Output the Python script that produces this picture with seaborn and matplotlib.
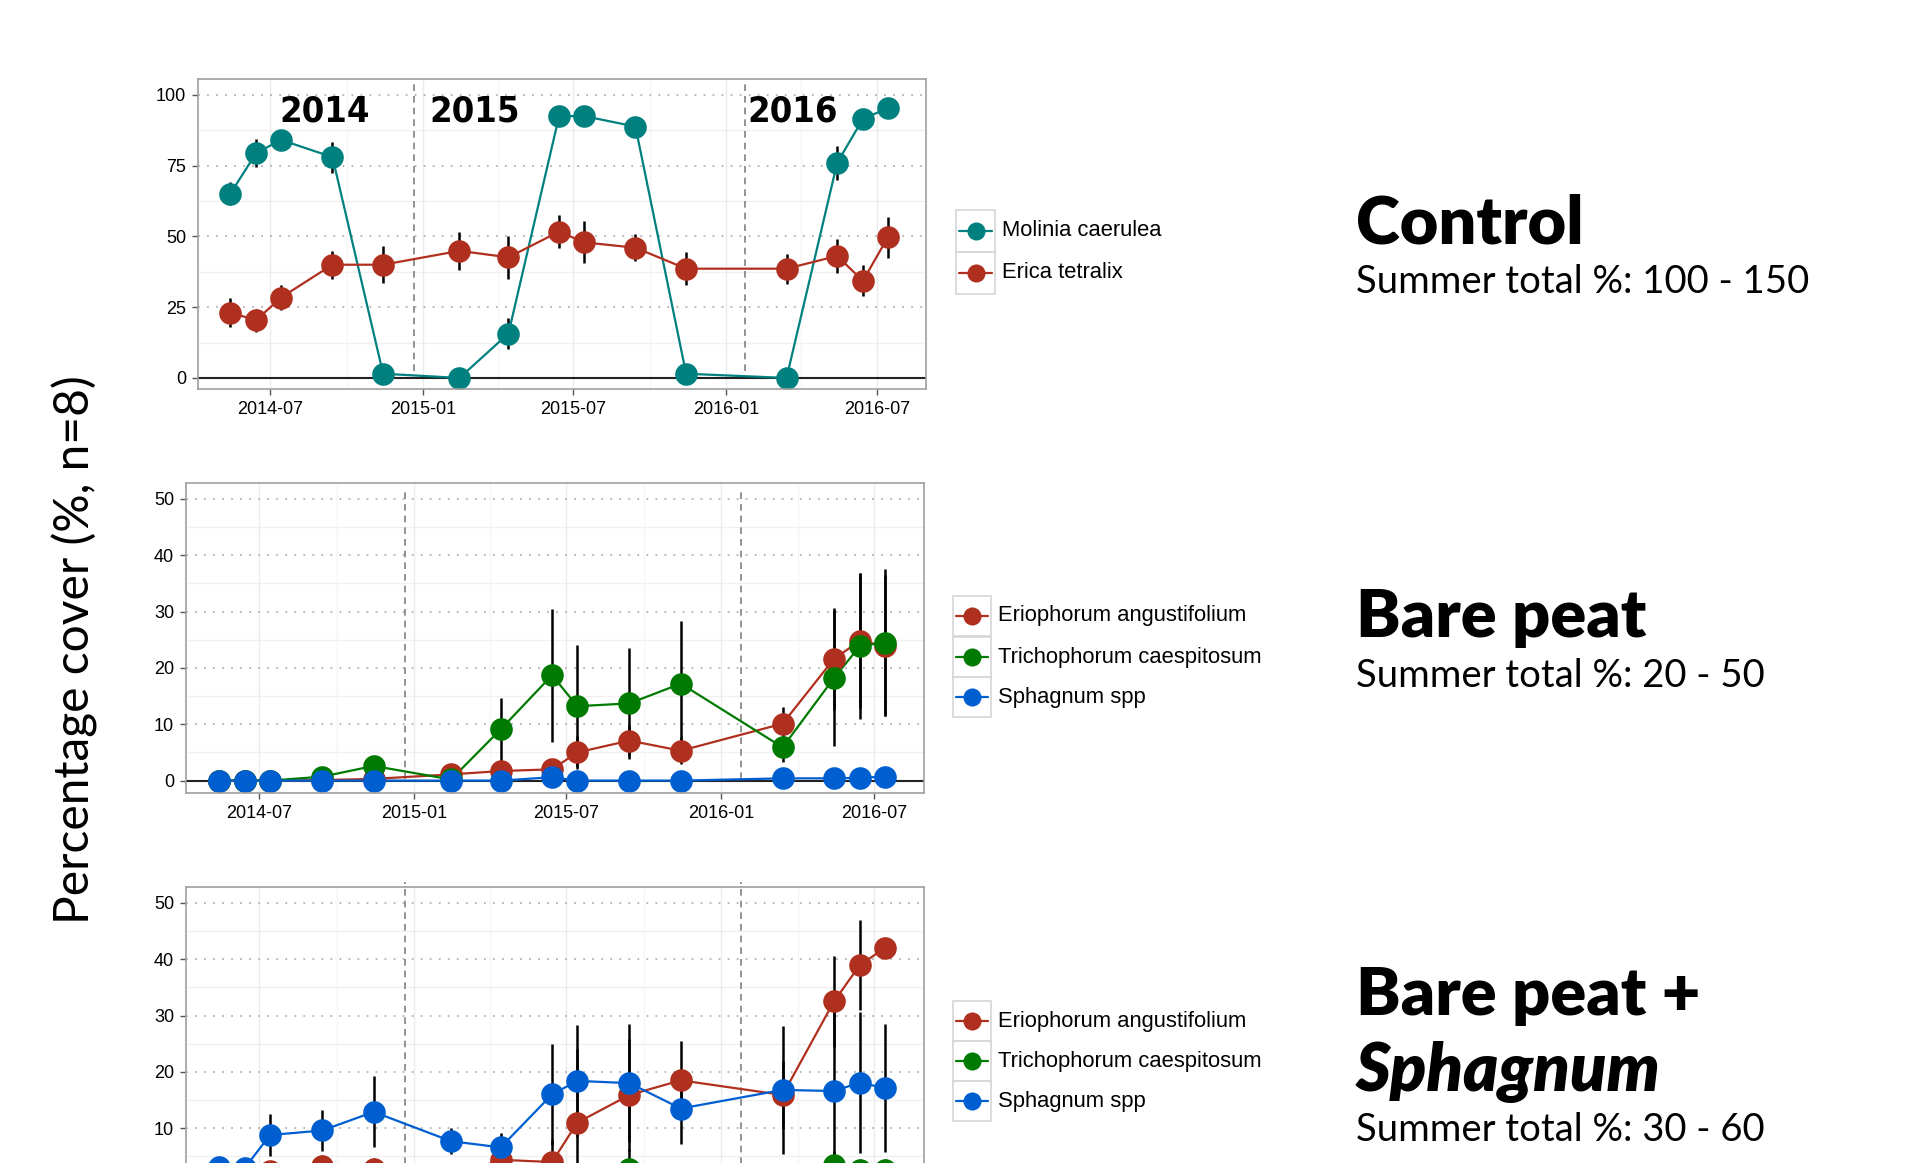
import numpy as np
import pandas as pd
import matplotlib
matplotlib.use("Agg")
import matplotlib.pyplot as plt
import matplotlib.dates as mdates
from matplotlib.patches import Rectangle
from matplotlib.lines import Line2D
import seaborn as sns

# ---------------- data ----------------
dates = ["2014-05-14", "2014-06-14", "2014-07-14", "2014-09-14", "2014-11-14",
         "2015-02-14", "2015-04-14", "2015-06-14", "2015-07-14", "2015-09-14",
         "2015-11-14", "2016-03-14", "2016-05-14", "2016-06-14", "2016-07-14"]

# Control
molinia_mean = [65.1, 79.4, 84.1, 78.0, 1.5, 0.0, 15.7, 92.5, 92.5, 88.8, 1.5, 0.0, 76.0, 91.5, 95.3]
molinia_se = [4.0, 5.0, 3.0, 5.5, 0.5, 0.0, 5.5, 1.5, 1.5, 2.0, 0.5, 0.0, 6.0, 2.0, 1.5]
erica_mean = [23.1, 20.4, 28.4, 40.0, 40.0, 44.9, 42.6, 51.7, 47.9, 46.0, 38.6, 38.6, 43.1, 34.3, 49.7]
erica_se = [5.0, 4.0, 4.5, 5.0, 6.5, 6.7, 7.7, 5.7, 7.4, 4.7, 5.9, 5.3, 6.0, 5.5, 7.3]

# Bare peat
erio_bp_mean = [0.0, 0.0, 0.0, 0.1, 0.3, 1.1, 1.7, 2.0, 5.0, 7.1, 5.3, 10.1, 21.6, 24.8, 23.9]
erio_bp_se = [0.0, 0.0, 0.0, 0.1, 0.2, 0.5, 0.8, 1.2, 3.0, 2.8, 2.4, 2.9, 9.0, 12.0, 12.5]
trich_bp_mean = [0.0, 0.0, 0.0, 0.7, 2.6, 0.2, 9.1, 18.7, 13.2, 13.7, 17.2, 5.9, 18.2, 23.9, 24.5]
trich_bp_se = [0.0, 0.0, 0.0, 0.5, 1.6, 0.2, 5.6, 11.8, 10.8, 9.8, 11.2, 2.6, 12.1, 13.0, 13.0]
sphag_bp_mean = [0.0, 0.0, 0.0, 0.0, 0.0, 0.0, 0.0, 0.6, 0.0, 0.0, 0.0, 0.4, 0.4, 0.5, 0.7]
sphag_bp_se = [0.0, 0.0, 0.0, 0.0, 0.0, 0.0, 0.0, 0.4, 0.0, 0.0, 0.0, 0.3, 0.3, 0.3, 0.4]

# Bare peat + Sphagnum
erio_bs_mean = [1.0, 1.5, 2.5, 3.3, 2.8, 1.2, 4.4, 4.0, 11.0, 15.9, 18.5, 15.9, 32.5, 39.0, 42.0]
erio_bs_se = [0.8, 1.0, 1.5, 2.0, 2.0, 1.0, 2.5, 4.0, 13.0, 10.0, 7.0, 6.0, 8.0, 8.0, 1.0]
trich_bs_mean = [0.0, 0.0, 0.0, 0.0, 0.0, 0.0, 0.0, 0.0, 0.0, 2.8, 0.0, 0.0, 3.4, 2.6, 2.6]
trich_bs_se = [0.0, 0.0, 0.0, 0.0, 0.0, 0.0, 0.0, 0.0, 0.0, 3.6, 0.0, 0.0, 2.5, 2.0, 2.0]
sphag_bs_mean = [3.2, 3.0, 8.8, 9.6, 12.9, 7.7, 6.6, 16.0, 18.4, 18.0, 13.5, 16.8, 16.6, 18.1, 17.1]
sphag_bs_se = [1.0, 1.0, 3.7, 3.7, 6.3, 2.3, 2.6, 9.0, 10.0, 10.5, 6.3, 11.4, 14.0, 12.5, 11.4]

year_labels = ["2014", "2015", "2016"]
year_label_x = ["2014-09-05", "2015-03-04", "2016-03-21"]
season_breaks = ["2014-12-21", "2016-01-24"]

panel_titles = ["Control", "Bare peat", "Bare peat +"]
panel_subtitles = ["Summer total %: 100 - 150", "Summer total %: 20 - 50", "Summer total %: 30 - 60"]
y_title = "Percentage cover (%, n=8)"

TEAL = "#00807f"
RED = "#b0301f"
GREEN = "#007a00"
BLUE = "#005fd0"


def build(series):
    frames = []
    for name, mean, se in series:
        frames.append(pd.DataFrame({"date": pd.to_datetime(dates), "species": name,
                                    "cover": mean, "se": se}))
    return pd.concat(frames, ignore_index=True)


control = build([("Molinia caerulea", molinia_mean, molinia_se),
                 ("Erica tetralix", erica_mean, erica_se)])
bare = build([("Eriophorum angustifolium", erio_bp_mean, erio_bp_se),
              ("Trichophorum caespitosum", trich_bp_mean, trich_bp_se),
              ("Sphagnum spp", sphag_bp_mean, sphag_bp_se)])
bare_sph = build([("Eriophorum angustifolium", erio_bs_mean, erio_bs_se),
                  ("Trichophorum caespitosum", trich_bs_mean, trich_bs_se),
                  ("Sphagnum spp", sphag_bs_mean, sphag_bs_se)])

pal_control = {"Molinia caerulea": TEAL, "Erica tetralix": RED}
pal_veg = {"Eriophorum angustifolium": RED, "Trichophorum caespitosum": GREEN,
           "Sphagnum spp": BLUE}

# ---------------- figure ----------------
sns.set_theme(style="white")
plt.rcParams["font.family"] = ["Liberation Sans", "DejaVu Sans"]
plt.rcParams["text.color"] = "black"

W, H = 1916, 1163
fig = plt.figure(figsize=(W / 100, H / 100), dpi=100)
fig.patch.set_facecolor("white")


def px_axes(left, top, right, bottom):
    return fig.add_axes([left / W, 1 - bottom / H, (right - left) / W, (bottom - top) / H])


XMIN, XMAX = pd.Timestamp("2014-04-05"), pd.Timestamp("2016-08-29")
major_x = pd.to_datetime(["2014-07-01", "2015-01-01", "2015-07-01", "2016-01-01", "2016-07-01"])
minor_x = pd.to_datetime(["2014-04-01", "2014-10-01", "2015-04-01", "2015-10-01", "2016-04-01"])


def draw_panel(ax, df, palette, order, ylim, yticks, yminor, vline_span, ylabels,
               show_x=True):
    ax.set_xlim(XMIN, XMAX)
    ax.set_ylim(*ylim)
    # grid
    for y in yminor:
        ax.axhline(y, color="#f0f0f0", lw=1.0, zorder=0)
    for x in minor_x:
        ax.axvline(x, color="#f5f5f5", lw=1.0, zorder=0)
    for x in major_x:
        ax.axvline(x, color="#ebebeb", lw=1.0, zorder=0)
    for y in yticks:
        ax.axhline(y, color="#b3b3b3", lw=1.3, ls=(0, (1, 4)), zorder=0.5)
    ax.axhline(0, color="#222222", lw=1.5, zorder=1)

    # season separators
    for d in season_breaks:
        ax.vlines(pd.Timestamp(d), vline_span[0], vline_span[1], colors="#808080",
                  linestyles=(0, (4, 3)), lw=1.2, zorder=1, clip_on=False)

    # error bars
    lo = df["cover"] - df["se"]
    hi = df["cover"] + df["se"]
    ax.vlines(df["date"], lo, hi, colors="black", lw=1.8, zorder=2)

    sns.lineplot(data=df, x="date", y="cover", hue="species", hue_order=order,
                 palette=palette, lw=1.6, legend=False, ax=ax, errorbar=None,
                 sort=False, zorder=3)
    for sp in order:
        sns.scatterplot(data=df[df["species"] == sp], x="date", y="cover",
                        color=palette[sp], s=265, linewidth=0, legend=False,
                        ax=ax, zorder=4)

    ax.set_yticks(yticks)
    ax.set_yticklabels(ylabels)
    ax.set_xticks(major_x)
    ax.xaxis.set_major_formatter(mdates.DateFormatter("%Y-%m"))
    ax.set_xlabel("")
    ax.set_ylabel("")
    ax.tick_params(axis="both", which="major", length=4.5, width=1, color="#555555",
                   labelsize=13, labelcolor="black", pad=4, direction="out",
                   bottom=True, left=True, labelbottom=show_x)
    for s in ax.spines.values():
        s.set_color("#a0a0a0")
        s.set_linewidth(1.2)
        s.set_zorder(5)


ax1 = px_axes(198, 79, 926, 389)
draw_panel(ax1, control, pal_control, list(pal_control), (-3.9, 105.6),
           [0, 25, 50, 75, 100], [12.5, 37.5, 62.5, 87.5], (2.4, 104.5),
           ["0", "25", "50", "75", "100"])
for lab, xd in zip(year_labels, year_label_x):
    ax1.text(pd.Timestamp(xd), 94.0, lab, ha="center", va="center", fontsize=26,
             fontweight="bold", fontstretch="condensed", color="black",
             family=["DejaVu Sans", "Liberation Sans"], zorder=6)

ax2 = px_axes(186, 483, 924, 793)
draw_panel(ax2, bare, pal_veg, list(pal_veg), (-2.2, 52.8),
           [0, 10, 20, 30, 40, 50], [5, 15, 25, 35, 45], (0.2, 51.7),
           ["0", "10", "20", "30", "40", "50"])

# the lowest panel runs past the bottom edge of the canvas; its baseline
# tick label and date labels sit below the visible area
ax3 = px_axes(186, 887, 924, 1197)
draw_panel(ax3, bare_sph, pal_veg, list(pal_veg), (-2.2, 52.8),
           [0, 10, 20, 30, 40, 50], [5, 15, 25, 35, 45], (0.2, 53.6),
           ["", "10", "20", "30", "40", "50"], show_x=False)


# ---------------- legends ----------------
def draw_legend(x_key, tops, key_w, key_h, names, colors, x_text):
    for top, name, col in zip(tops, names, colors):
        fig.add_artist(Rectangle((x_key / W, 1 - (top + key_h) / H), key_w / W, key_h / H,
                                 transform=fig.transFigure, fill=True, facecolor="white",
                                 edgecolor="#d6d6d6", lw=1.2))
        yc = 1 - (top + key_h / 2) / H
        fig.add_artist(Line2D([(x_key + 3) / W, (x_key + key_w - 3) / W], [yc, yc],
                              transform=fig.transFigure, color=col, lw=1.6))
        fig.add_artist(Line2D([(x_key + key_w / 2) / W], [yc], transform=fig.transFigure,
                              marker="o", markersize=13, markeredgewidth=0,
                              color=col, lw=0))
        fig.text(x_text / W, yc, name, ha="left", va="center", fontsize=15.8,
                 color="black")


draw_legend(956, [210, 252], 39, 42, list(pal_control), list(pal_control.values()), 1002)
draw_legend(953, [596, 637, 677], 38, 40, list(pal_veg), list(pal_veg.values()), 998)
draw_legend(953, [1001, 1041, 1081], 38, 40, list(pal_veg), list(pal_veg.values()), 998)

# ---------------- panel titles ----------------
TITLE_FONT = ["Lato", "DejaVu Sans"]
title_kw = dict(ha="left", va="center", fontsize=48, fontweight="heavy",
                family=TITLE_FONT, color="black")
sub_kw = dict(ha="left", va="center", fontsize=27.5, fontweight="normal",
              family=TITLE_FONT, color="black")

fig.text(1356 / W, 1 - 224 / H, panel_titles[0], **title_kw)
fig.text(1356 / W, 1 - 282 / H, panel_subtitles[0], **sub_kw)

fig.text(1356 / W, 1 - 617 / H, panel_titles[1], **title_kw)
fig.text(1356 / W, 1 - 676 / H, panel_subtitles[1], **sub_kw)

fig.text(1356 / W, 1 - 996 / H, panel_titles[2], **title_kw)
fig.text(1356 / W, 1 - 1072 / H, "Sphagnum", fontstyle="italic", **title_kw)
fig.text(1356 / W, 1 - 1130 / H, panel_subtitles[2], **sub_kw)

# shared y-axis title
fig.text(75 / W, 1 - 650 / H, y_title, ha="center", va="center", rotation=90,
         fontsize=34.5, fontweight="normal", family=TITLE_FONT, color="black")

fig.savefig("out.png", dpi=100, facecolor="white")
